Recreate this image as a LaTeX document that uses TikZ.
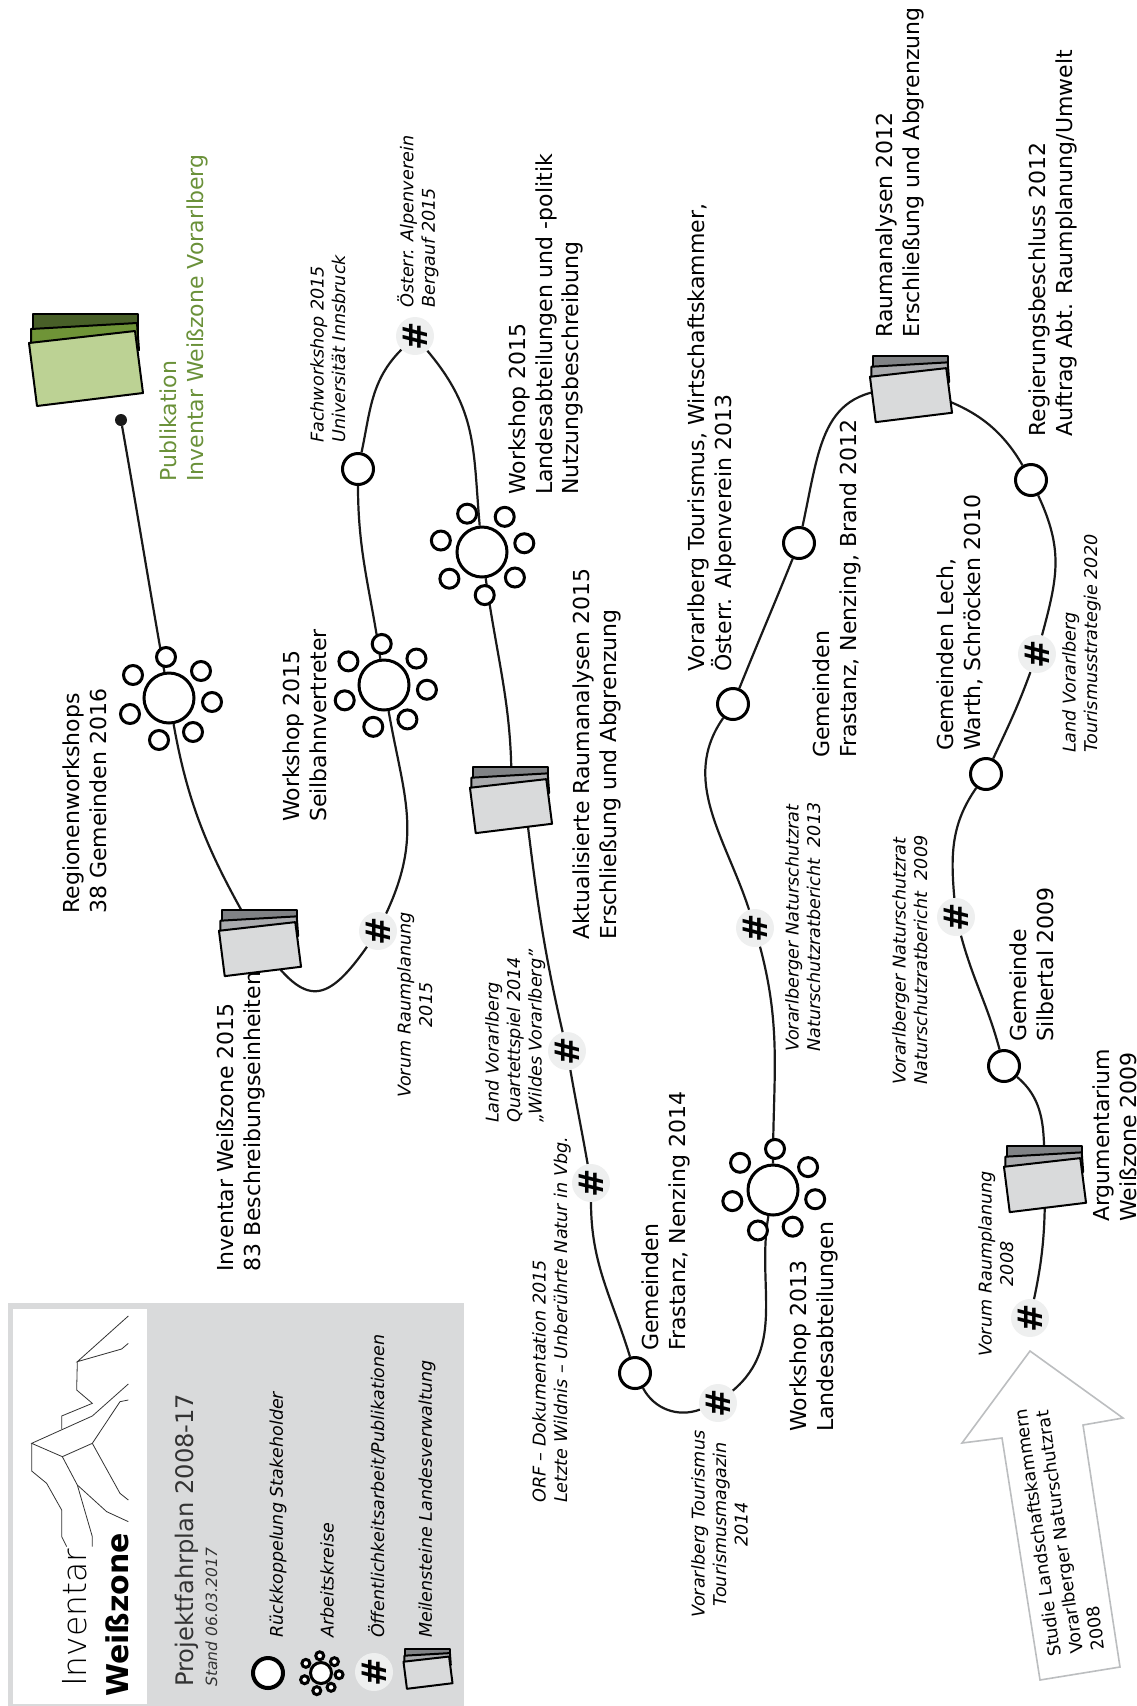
\documentclass[tikz,border=0pt]{standalone}
\usepackage{fontspec}
\setmainfont{DejaVu Sans}
\newfontfamily\logolight{DejaVu Sans ExtraLight}
\usetikzlibrary{backgrounds}
\definecolor{legendGrey}{HTML}{D9DADB}
\definecolor{midGrey}{HTML}{A9AAAD}
\definecolor{backGrey}{HTML}{808285}
\definecolor{frontGreen}{HTML}{BCD294}
\definecolor{midGreen}{HTML}{6F9437}
\definecolor{backGreen}{HTML}{485F28}
\definecolor{textGreen}{HTML}{6A9139}
\definecolor{arrowGrey}{HTML}{BCBEC0}
\definecolor{discGrey}{HTML}{EEEFEF}
\begin{document}
\begin{tikzpicture}
[x=1pt,y=-1pt,%
  chainLine/.style={line width=2.2pt,draw=black!90},%
  labelDecorate/.style={rotate=90,anchor=north west,inner sep=0pt,align=left,font=\fontsize{22}{26.5}\selectfont},%
  smallDecorate/.style={rotate=90,anchor=north west,inner sep=0pt,align=left,font=\fontsize{17.6}{21.5}\selectfont\itshape},%
  smallCentre/.style={smallDecorate,align=center},%
  legendDecorate/.style={rotate=90,anchor=west,inner sep=0pt,font=\fontsize{17.5}{20}\selectfont\itshape},%
  stakeNode/.style={shape=circle,inner sep=0pt,minimum size=31pt,draw,line width=3pt,fill=white},%
  hashNode/.style={shape=circle,inner sep=0pt,minimum size=38pt,fill=discGrey,font=\fontsize{34}{34}\selectfont\bfseries},%
  coreNode/.style={shape=circle,inner sep=0pt,minimum size=50pt,draw,line width=3pt,fill=white},%
  moonNode/.style={shape=circle,inner sep=0pt,minimum size=19pt,draw,line width=3pt,fill=white},%
  folderFront/.style={fill=legendGrey},%
  folderMid/.style={fill=midGrey},%
  folderBack/.style={fill=backGrey},%
  greenSet/.style={folderFront/.style={fill=frontGreen},folderMid/.style={fill=midGreen},folderBack/.style={fill=backGreen}},%
  workshop/.pic={
    \foreach \mx/\my in {-3/-41,32/-27,43/4,24/34,-10/42,-39/16,-36/-23}
      \node[moonNode,pic actions] at (\mx,\my) {};
    \node[coreNode,pic actions] (core) at (0,0) {};
  },
  folder/.pic={
    \coordinate (core) at (0,0);
    \coordinate (lower) at (19,0);
    \draw[folderBack,line width=2pt,line join=round] (-53,-46) -- (52,-46) -- (52,-15) -- (-53,-15) -- cycle;
    \draw[folderMid,line width=2pt,line join=round] (-55,-31) -- (51,-37) -- (53,-10) -- (-55,-10) -- cycle;
    \draw[folderFront,line width=2pt,line join=round] (-57,-17) -- (49,-29) -- (57,33) -- (-49,46) -- cycle;
  }]
\useasboundingbox (0,0) rectangle (1137,1706);
%% legend panel
\fill[legendGrey] (8,1303) rectangle (464,1706);
\fill[white] (13,1309) rectangle (147,1704);
\begin{scope}[shift={(0,1280)},scale=0.3333,line width=0.8pt,draw=black!80]
  \draw (385,108) -- (232,245) -- (365,207) -- (385,190);
  \draw (232,245) -- (230,330) -- (277,370) -- (185,408) -- (185,447);
  \draw (385,312) -- (277,408) -- (95,490) -- (187,530) -- (277,490) -- (360,365) -- (385,360);
  \draw (95,490) -- (95,573) -- (140,610) -- (185,690) -- (185,770) -- (200,800);
  \draw (187,530) -- (232,615) -- (277,770) -- (277,800);
  \draw (232,615) -- (320,695) -- (385,725);
  \draw (277,490) -- (360,640) -- (385,660);
\end{scope}
\node[rotate=90,anchor=base west,inner sep=0pt,font=\fontsize{33}{33}\logolight] (logoTop) at (86,1687) {Inventar};
\node[rotate=90,anchor=base west,inner sep=0pt,font=\fontsize{30}{30}\selectfont\bfseries] (logoBottom) at (128,1697) {Weißzone};
\node[rotate=90,anchor=base west,inner sep=0pt,font=\fontsize{24.2}{24}\selectfont,text=black!80] (title) at (193,1687) {Projektfahrplan 2008-17};
\node[rotate=90,anchor=base west,inner sep=0pt,font=\fontsize{15.5}{20}\selectfont\itshape,text=black!80] (stand) at (217,1687) {Stand 06.03.2017};
%% legend entries
\foreach \nodename/\x/\txt in {
  legA/278/{Rückkoppelung Stakeholder}, legB/327/{Arbeitskreise},
  legC/377/{Öffentlichkeitsarbeit/Publikationen}, legD/427/{Meilensteine Landesverwaltung}}
{
  \node[legendDecorate] (\nodename) at (\x,1638) {\txt};
}
\node[stakeNode,minimum size=30pt,line width=4pt] (legStake) at (268,1673) {};
\pic[scale=0.42,transform shape] (legWork) at (321,1673) {workshop};
\node[hashNode] (legHash) at (374,1672) {\rotatebox{90}{\#}};
\pic[scale=0.43] (legFolder) at (428,1669) {folder};
%% start arrow
\draw[arrowGrey,line width=1.6pt,fill=white] (1030,1351) -- (1123,1418) -- (1083,1425) -- (1120,1667) -- (1040,1680) -- (1002,1438) -- (962,1443) -- cycle;
\node[rotate=98,anchor=north west,inner sep=0pt,align=left,font=\fontsize{17.5}{22}\selectfont] (study) at (1048,1658) {Studie Landschaftskammern\\Vorarlberger Naturschutzrat\\2008};
%% stakeholder circles
\foreach \nodename/\x/\y in {
  c09/1004/1066, c10/986/774, c11/1031/480, c12/799/543,
  c13/733/704, c14/635/1373, c15/358/469}
{
  \node[stakeNode] (\nodename) at (\x,\y) {};
}
%% public relations marks
\foreach \nodename/\x/\y in {
  h08/1030/1318, h09/956/917, h10/1037/654, h13/755/928, h14/718/1403,
  h15/591/1183, h15b/567/1051, h15c/415/336, h15d/378/931}
{
  \node[hashNode] (\nodename) at (\x,\y) {\rotatebox{90}{\#}};
}
%% workshops
\foreach \nodename/\x/\y/\turn in {
  w13/773/1190/-7, w15/482/552/17, w15s/384/685/-1, w16/169/698/0}
{
  \pic[rotate=\turn] (\nodename) at (\x,\y) {workshop};
}
%% milestones
\foreach \nodename/\x/\y in {
  f08/1045/1179, f12/911/389, f15/511/800, f15i/260/943}
{
  \pic[scale=0.72] (\nodename) at (\x,\y) {folder};
}
\pic[greenSet] (f16) at (86,360) {folder};
\node[shape=circle,inner sep=0pt,minimum size=12pt,fill=black!90] (finish) at (121,420) {};
%% main labels
\foreach \nodename/\x/\y/\txt in {
  l16/63/914/{Regionenworkshops\\38 Gemeinden 2016},
  l15s/283/822/{Workshop 2015\\Seilbahnvertreter},
  l15i/217/1272/{Inventar Weißzone 2015\\83 Beschreibungseinheiten},
  l15a/573/940/{Aktualisierte Raumanalysen 2015\\Erschließung und Abgrenzung},
  l14/642/1351/{Gemeinden\\Frastanz, Nenzing 2014},
  l15w/509/495/{Workshop 2015\\Landesabteilungen und -politik\\Nutzungsbeschreibung},
  l13w/790/1432/{Workshop 2013\\Landesabteilungen},
  l13/688/672/{Vorarlberg Tourismus, Wirtschaftskammer,\\Österr. Alpenverein 2013},
  l12g/813/758/{Gemeinden\\Frastanz, Nenzing, Brand 2012},
  l12r/876/338/{Raumanalysen 2012\\Erschließung und Abgrenzung},
  l12b/1029/437/{Regierungsbeschluss 2012\\Auftrag Abt. Raumplanung/Umwelt},
  l10/937/751/{Gemeinden Lech,\\Warth, Schröcken 2010},
  l09g/1010/1042/{Gemeinde\\Silbertal 2009},
  l09a/1093/1222/{Argumentarium\\Weißzone 2009}}
{
  \node[labelDecorate] (\nodename) at (\x,\y) {\txt};
}
\node[labelDecorate,text=textGreen] (lPub) at (160,482) {Publikation\\Inventar Weißzone Vorarlberg};
%% italic labels
\foreach \nodename/\x/\y/\txt in {
  s15f/310/443/{Fachworkshop 2015\\Universität Innsbruck},
  s15o/397/308/{Österr. Alpenverein\\Bergauf 2015},
  s14l/485/1123/{Land Vorarlberg\\Quartettspiel 2014\\„Wildes Vorarlberg"},
  s15r/532/1503/{ORF – Dokumentation 2015\\Letzte Wildnis – Unberührte Natur in Vbg.},
  s13n/785/1052/{Vorarlberger Naturschutzrat\\Naturschutzratbericht\ \ 2013},
  s09n/892/1085/{Vorarlberger Naturschutzrat\\Naturschutzratbericht\ \ 2009},
  s20/1062/753/{Land Vorarlberg\\Tourismusstrategie 2020}}
{
  \node[smallDecorate] (\nodename) at (\x,\y) {\txt};
}
\foreach \nodename/\x/\y/\txt in {
  s15v/397/1098/{Vorum Raumplanung\\2015},
  s14t/691/1618/{Vorarlberg Tourismus\\Tourismusmagazin\\2014},
  s08v/978/1357/{Vorum Raumplanung\\2008}}
{
  \node[smallCentre] (\nodename) at (\x,\y) {\txt};
}
%% connect everything behind the symbols
\begin{pgfonlayer}{background}
\foreach \nodeA/\nodeB/\o/\i/\l in {
  h08/f08core/78/-90/1, f08core/c09/93/-40/1, c09/h09/105/-75/1, h09/c10/95/-125/1,
  c10/h10/65/-110/1, h10/c11/75/-65/1.1, c11/f12core/120/-15/1, f12core/c12/178/78/1.3,
  c12/c13/-112/68/1, c13/h13/-125/108/1, h13/w13core/-75/90/1, w13core/h14/-100/40/1,
  h14/c14/200/-62/1, c14/h15/107/-90/1, h15/h15b/100/-80/1, h15b/f15lower/103/-83/1,
  f15core/w15core/88/-82/1, w15core/h15c/95/-50/1.1, h15c/c15/-135/78/1, c15/w15score/-90/98/1,
  w15score/h15d/-80/65/1.1, h15d/f15icore/-125/-55/1.8, f15icore/w16core/120/-80/1, w16core/finish/100/-80/1}
{
  \draw[chainLine] (\nodeA) to[out=\o,in=\i,looseness=\l] (\nodeB);
}
\end{pgfonlayer}
\end{tikzpicture}
\end{document}
